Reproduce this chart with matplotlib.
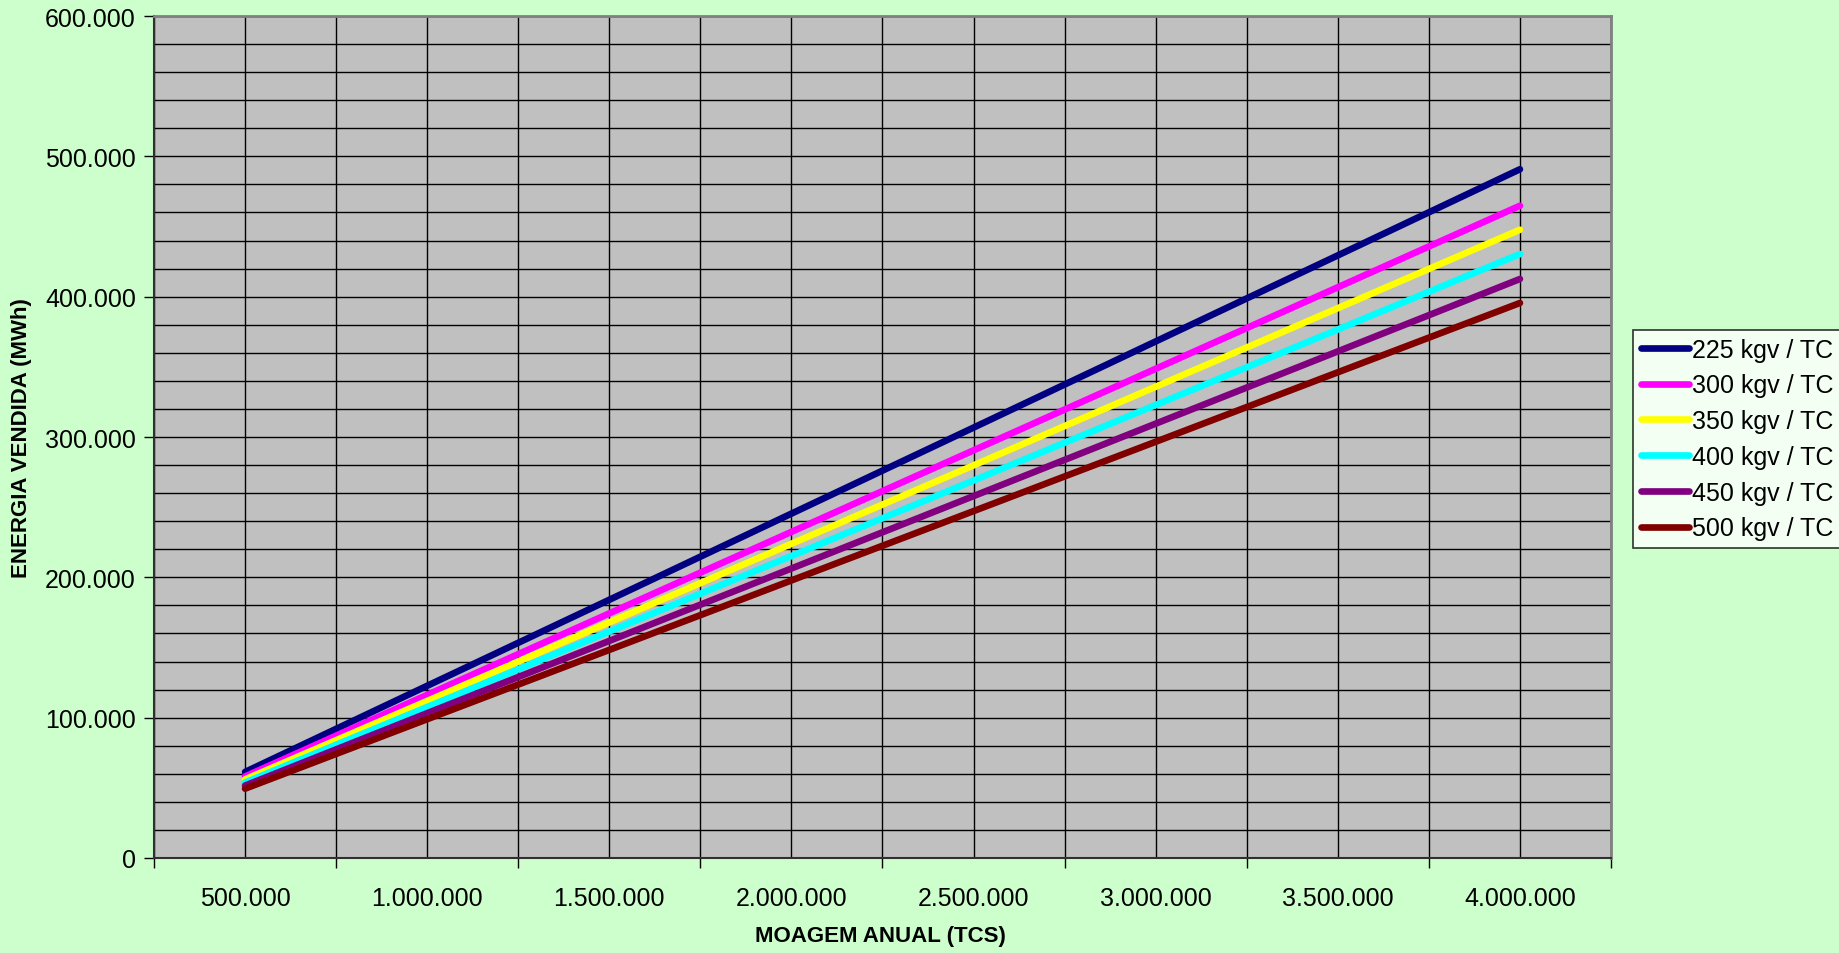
import numpy as np
import matplotlib.pyplot as plt
from matplotlib.ticker import FuncFormatter, MultipleLocator, FixedLocator

plt.rcParams['font.family'] = ['Liberation Sans', 'DejaVu Sans']

# moagem anual (TCS)
moagem = [500000, 1000000, 1500000, 2000000, 2500000, 3000000, 3500000, 4000000]

# energia vendida (MWh) por consumo de vapor
e225 = [61300, 122700, 184000, 245400, 306700, 368100, 429400, 490800]
e300 = [58100, 116200, 174300, 232400, 290500, 348600, 406700, 464800]
e350 = [56000, 111900, 167900, 223900, 279800, 335800, 391800, 447700]
e400 = [53800, 107600, 161400, 215200, 269000, 322800, 376600, 430400]
e450 = [51600, 103200, 154700, 206300, 257900, 309500, 361000, 412600]
e500 = [49400, 98900, 148300, 197800, 247200, 296600, 346100, 395500]

series = [
    ('225 kgv / TC', e225, '#000080'),
    ('300 kgv / TC', e300, '#FF00FF'),
    ('350 kgv / TC', e350, '#FFFF00'),
    ('400 kgv / TC', e400, '#00FFFF'),
    ('450 kgv / TC', e450, '#800080'),
    ('500 kgv / TC', e500, '#800000'),
]


def pontos(v, pos):
    return '{:,.0f}'.format(v).replace(',', '.')


fig = plt.figure(figsize=(18.39, 9.54), dpi=100, facecolor='#CCFFCC')
ax = fig.add_axes([154 / 1839, 95 / 954, (1611 - 154) / 1839, (859 - 17) / 954])
ax.set_facecolor('#C0C0C0')

for label, vals, cor in series:
    ax.plot(moagem, vals, color=cor, lw=4.8, label=label,
            solid_capstyle='round', zorder=3)

ax.set_xlim(250000, 4250000)
ax.set_ylim(0, 600000)

ax.xaxis.set_major_locator(FixedLocator(moagem))
ax.xaxis.set_minor_locator(FixedLocator(np.arange(250000, 4250001, 500000)))
ax.xaxis.set_major_formatter(FuncFormatter(pontos))
ax.yaxis.set_major_locator(MultipleLocator(100000))
ax.yaxis.set_minor_locator(MultipleLocator(20000))
ax.yaxis.set_major_formatter(FuncFormatter(pontos))

ax.grid(True, which='both', color='black', lw=1.0, zorder=1)
ax.set_axisbelow(True)

ax.tick_params(axis='x', which='major', length=0, pad=20, labelsize=18)
ax.tick_params(axis='x', which='minor', length=7, width=1, direction='out')
ax.tick_params(axis='y', which='major', length=7, width=1, direction='out',
               labelsize=18, pad=6)
ax.tick_params(axis='y', which='minor', length=0)

for s in ['top', 'right']:
    ax.spines[s].set_color('#808080')
    ax.spines[s].set_linewidth(2)
for s in ['left', 'bottom']:
    ax.spines[s].set_color('#303030')
    ax.spines[s].set_linewidth(1.5)

fig.text(880 / 1839, 1 - 937 / 954, 'MOAGEM ANUAL (TCS)', ha='center',
         va='center', fontsize=16, fontweight='bold')
fig.text(22 / 1839, 1 - 438 / 954, 'ENERGIA VENDIDA (MWh)', ha='center',
         va='center', rotation=90, fontsize=16, fontweight='bold')

leg = fig.legend(loc='center left', bbox_to_anchor=(1633 / 1839, 1 - 440 / 954),
                 fontsize=18, frameon=True, fancybox=False, handlelength=1.95,
                 handletextpad=0.12, borderpad=0.3, labelspacing=0.47,
                 borderaxespad=0)
leg.get_frame().set_edgecolor('black')
leg.get_frame().set_linewidth(1.2)
leg.get_frame().set_facecolor('white')

fig.savefig('out.png', dpi=100, facecolor=fig.get_facecolor())
